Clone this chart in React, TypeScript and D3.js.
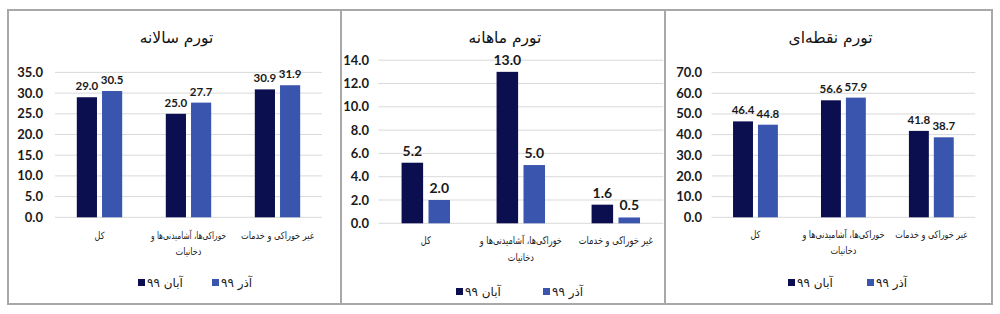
import React from "react";
import * as d3 from "d3";

// ---- data ----
const categories = ["کل", "خوراکی‌ها، آشامیدنی‌ها و دخانیات", "غیر خوراکی و خدمات"];
const categoryLines = [["کل"], ["خوراکی‌ها، آشامیدنی‌ها و", "دخانیات"], ["غیر خوراکی و خدمات"]];
const seriesNames = ["آبان ۹۹", "آذر ۹۹"];

const titles = ["تورم سالانه", "تورم ماهانه", "تورم نقطه‌ای"];

const annualAban = [29.0, 25.0, 30.9];
const annualAzar = [30.5, 27.7, 31.9];
const monthlyAban = [5.2, 13.0, 1.6];
const monthlyAzar = [2.0, 5.0, 0.5];
const pointAban = [46.4, 56.6, 41.8];
const pointAzar = [44.8, 57.9, 38.7];

const annualTicks = [0, 5, 10, 15, 20, 25, 30, 35];
const monthlyTicks = [0, 2, 4, 6, 8, 10, 12, 14];
const pointTicks = [0, 10, 20, 30, 40, 50, 60, 70];

// ---- layout / styles ----
const COLORS = ["#0b0f4f", "#3a55ae"];
const FA = "'DejaVu Sans', sans-serif";
const FA_COND = "'DejaVu Sans Condensed', 'DejaVu Sans', sans-serif";
const NUM = "Lato, 'Open Sans', sans-serif";

const layouts = [
  { cellX: [8, 341], x: [55, 322], y: [217.3, 72.4], tickX: 43, valFont: 11.5, catY: 238.5, catFont: 10, catW: [[10], [75, 26], [73]], legY: 283, legX: [138, 212], titleY: 43 },
  { cellX: [341, 665], x: [378.3, 663.3], y: [223.3, 60.2], tickX: 369, valFont: 14, catY: 244, catFont: 10.5, catW: [[10], [82, 26], [74]], legY: 292, legX: [456, 543], titleY: 43 },
  { cellX: [665, 992], x: [711.5, 975.3], y: [217.3, 72.6], tickX: 702, valFont: 11.5, catY: 237.5, catFont: 10, catW: [[10], [82, 26], [72]], legY: 283, legX: [788, 867], titleY: 43 },
];

const panelData = [
  { title: titles[0], a: annualAban, b: annualAzar, ticks: annualTicks },
  { title: titles[1], a: monthlyAban, b: monthlyAzar, ticks: monthlyTicks },
  { title: titles[2], a: pointAban, b: pointAzar, ticks: pointTicks },
];

function Panel({ d, l }: any) {
  const x = d3.scaleBand<string>().domain(categories).range(l.x).paddingInner(0.49).paddingOuter(0.245);
  const xs = d3.scaleBand<string>().domain(seriesNames).range([0, x.bandwidth()]).paddingInner(0.2);
  const tMax = d.ticks[d.ticks.length - 1];
  const y = d3.scaleLinear().domain([0, tMax]).range(l.y);
  const series = [d.a, d.b];
  const cx = (l.cellX[0] + l.cellX[1]) / 2 + 2;
  return (
    <g>
      <text x={cx} y={l.titleY} textAnchor="middle" direction="rtl" fontFamily={FA} fontSize={15.5} fill="#111">
        {d.title}
      </text>
      {d.ticks.map((t: number) => (
        <g key={t}>
          <line x1={l.x[0]} x2={l.x[1]} y1={y(t)} y2={y(t)} stroke="#d9d9d9" strokeWidth={1} />
          <text x={l.tickX} y={y(t)} dy="0.35em" textAnchor="end" fontFamily={NUM} fontWeight={700} fontSize={13} fill="#1a1a1a">
            {d3.format(".1f")(t)}
          </text>
        </g>
      ))}
      {series.map((vals: number[], si: number) =>
        vals.map((v, ci) => {
          const bx = (x(categories[ci]) as number) + (xs(seriesNames[si]) as number);
          const bw = xs.bandwidth();
          return (
            <g key={si + "-" + ci}>
              <rect x={bx} y={y(v)} width={bw} height={y(0) - y(v)} fill={COLORS[si]} />
              <text x={bx + bw / 2} y={y(v) - 7} textAnchor="middle" fontFamily={NUM} fontWeight={700} fontSize={l.valFont} fill="#1a1a1a">
                {d3.format(".1f")(v)}
              </text>
            </g>
          );
        })
      )}
      {categoryLines.map((lines, ci) =>
        lines.map((ln, li) => {
          const cxx = (x(categories[ci]) as number) + x.bandwidth() / 2;
          const w = l.catW[ci][li];
          return (
            <text
              key={ci + "-" + li}
              x={cxx - w / 2}
              y={l.catY + li * 16.5}
              textLength={w}
              lengthAdjust="spacingAndGlyphs"
              fontFamily={FA_COND}
              fontSize={l.catFont}
              fill="#222"
            >
              {ln}
            </text>
          );
        })
      )}
      {seriesNames.map((s, si) => (
        <g key={s}>
          <rect x={l.legX[si]} y={l.legY - 4} width={7} height={7} fill={COLORS[si]} />
          <text x={l.legX[si] + 9} y={l.legY} dy="0.35em" fontFamily={FA} fontSize={12} fill="#222">
            {s}
          </text>
        </g>
      ))}
    </g>
  );
}

export default function App() {
  return (
    <svg width={1000} height={314} style={{ position: "absolute", left: 0, top: 0, background: "#fff" }}>
      <rect x={0} y={0} width={1000} height={314} fill="#fff" />
      <rect x={8} y={10} width={984} height={294} fill="none" stroke="#a8a8a8" strokeWidth={2} />
      <line x1={341} x2={341} y1={10} y2={304} stroke="#a8a8a8" strokeWidth={2} />
      <line x1={665} x2={665} y1={10} y2={304} stroke="#a8a8a8" strokeWidth={2} />
      {panelData.map((d, i) => (
        <Panel key={i} d={d} l={layouts[i]} />
      ))}
    </svg>
  );
}
